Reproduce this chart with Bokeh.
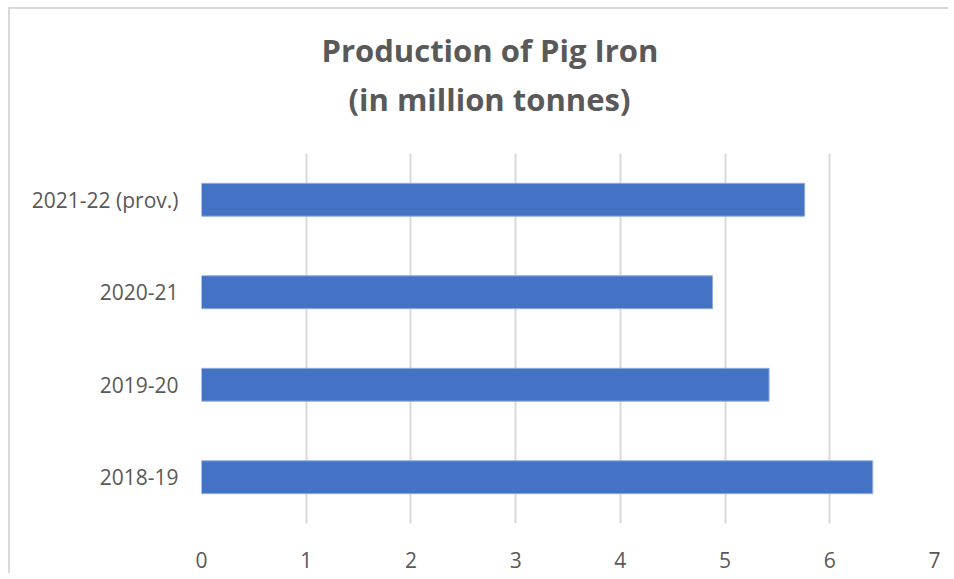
from bokeh.plotting import figure
from bokeh.models import Title, FixedTicker
from bokeh.embed import file_html
from bokeh.resources import INLINE

# Data (bottom to top as drawn)
years = ["2018-19", "2019-20", "2020-21", "2021-22 (prov.)"]
production = [6.41, 5.42, 4.88, 5.76]
x_ticks = [0, 1, 2, 3, 4, 5, 6, 7]
title_line1 = "Production of Pig Iron"
title_line2 = "(in million tonnes)"

FONT = "Open Sans"
GREY = "#595959"

p = figure(width=940, height=566, y_range=years, x_range=(0, 7),
           output_backend="svg", toolbar_location=None, title=None,
           min_border_left=191, min_border_right=16,
           min_border_top=144, min_border_bottom=52)
p.margin = (7, 0, 0, 8)

# spacer between frame and title lines
p.add_layout(Title(text=" ", text_font_size="1px", standoff=28), "above")
p.add_layout(Title(text=title_line2, align="left", text_font=FONT,
                   text_font_size="31px", text_font_style="bold",
                   text_color=GREY, standoff=5, offset=147), "above")
p.add_layout(Title(text=title_line1, align="left", text_font=FONT,
                   text_font_size="31px", text_font_style="bold",
                   text_color=GREY, standoff=5, offset=120), "above")

p.hbar(y=years, right=production, left=0, height=0.355,
       fill_color="#4472C4", line_color="#8faadc", line_width=1)

p.outline_line_color = None
p.background_fill_color = "white"
p.border_fill_color = "white"
p.ygrid.grid_line_color = None
p.xgrid.grid_line_color = "#d9d9d9"
p.xgrid.grid_line_width = 2
p.xaxis.ticker = FixedTicker(ticks=x_ticks)

for ax in (p.xaxis, p.yaxis):
    ax.axis_line_color = None
    ax.major_tick_line_color = None
    ax.minor_tick_line_color = None
    ax.major_label_text_font = FONT
    ax.major_label_text_font_size = "21px"
    ax.major_label_text_color = GREY

p.xaxis.major_label_standoff = 22
p.yaxis.major_label_standoff = 17

p.styles = {"border-left": "2px solid #d9d9d9", "border-top": "2px solid #d9d9d9"}

open("out.html", "w").write(file_html(p, INLINE))
